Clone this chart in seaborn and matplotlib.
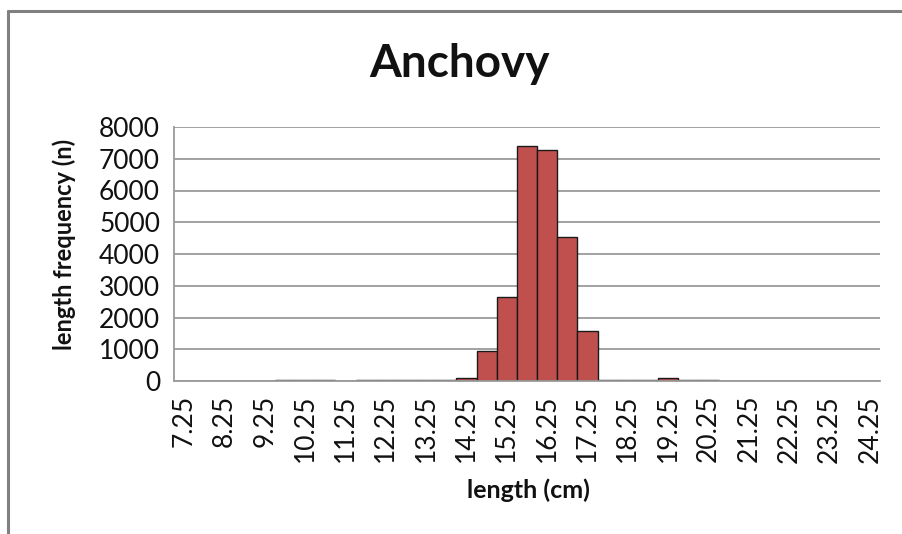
import matplotlib
matplotlib.use("Agg")
import matplotlib.pyplot as plt
import seaborn as sns
import numpy as np
import pandas as pd
from matplotlib.lines import Line2D

lengths = [f"{7.25 + 0.5*i:g}" for i in range(35)]
counts = [0, 0, 0, 0, 0, 30, 30, 30, 0, 25, 25, 25, 25, 25,
          85, 955, 2660, 7400, 7280, 4550, 1590,
          20, 20, 20, 110, 25, 25,
          0, 0, 0, 0, 0, 0, 0, 0]
label_every = 2
title = "Anchovy"
xlabel = "length (cm)"
ylabel = "length frequency (n)"

df = pd.DataFrame({"length": lengths, "n": counts})

sns.set_style("white")
plt.rcParams["font.family"] = ["Lato", "DejaVu Sans"]

fig = plt.figure(figsize=(9.03, 5.34), dpi=100)
ax = fig.add_axes([174/903, 1-381/534, (880-174)/903, (381-127)/534])

sns.barplot(data=df, x="length", y="n", order=lengths, color="#C0504D",
            saturation=1, edgecolor="#1a1a1a", linewidth=1.0, width=1.0, ax=ax)
for p in ax.patches:
    if p.get_height() == 0:
        p.set_edgecolor("none")

ax.set_xlim(-0.5, len(lengths) - 0.5)
ax.set_ylim(0, 8000)
ax.set_yticks(np.arange(0, 8001, 1000))
ax.yaxis.grid(True, color="#9a9a9a", linewidth=1.3)
ax.set_axisbelow(True)

ax.set_xticks(range(0, len(lengths), label_every))
ax.set_xticklabels([lengths[i] for i in range(0, len(lengths), label_every)],
                   rotation=90, fontsize=19, color="#111111")
ax.set_xticks(np.arange(-0.5, len(lengths), 1), minor=True)
ax.tick_params(axis="x", which="major", length=0, pad=10)
ax.tick_params(axis="x", which="minor", length=6, width=1.2, color="#9a9a9a", direction="out")
ax.tick_params(axis="y", which="major", length=6, width=1.2, color="#9a9a9a",
               direction="out", labelsize=19, labelcolor="#111111", pad=4)

for s in ["top", "right"]:
    ax.spines[s].set_visible(False)
for s in ["left", "bottom"]:
    ax.spines[s].set_color("#9a9a9a")
    ax.spines[s].set_linewidth(1.3)

ax.set_xlabel(xlabel, fontsize=18, fontweight="bold", color="#111111")
ax.xaxis.set_label_coords(528/903, 1-490/534, transform=fig.transFigure)
ax.xaxis.label.set_va("center")
ax.set_ylabel(ylabel, fontsize=17, fontweight="bold", color="#111111")
ax.yaxis.set_label_coords(64/903, 1-244/534, transform=fig.transFigure)
ax.yaxis.label.set_va("center")
fig.text(460/903, 1-64/534, title, ha="center", va="center",
         fontsize=33, fontweight="bold", color="#111111")

fig.add_artist(Line2D([8/903, 1.0], [1-11/534, 1-11/534], color="#808080", linewidth=2.2,
                      transform=fig.transFigure))
fig.add_artist(Line2D([8/903, 8/903], [0, 1-11/534], color="#808080", linewidth=2.2,
                      transform=fig.transFigure))

fig.savefig("out.png", dpi=100)
